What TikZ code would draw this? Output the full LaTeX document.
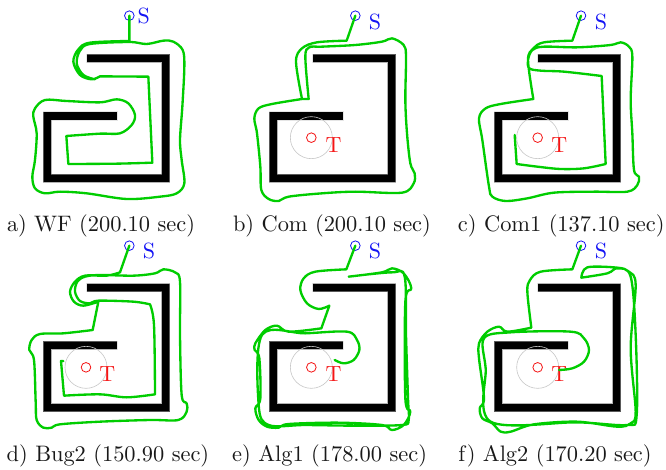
\documentclass[tikz,border=0pt]{standalone}
\definecolor{trajgreen}{RGB}{0,205,0}
\definecolor{lblue}{RGB}{20,20,245}
\definecolor{lred}{RGB}{245,20,20}
\font\capf=cmr10 at 16.8pt
\font\lblf=cmr10 at 16.5pt
\tikzset{
 every plot/.style={smooth,tension=.55},
 panel/.style={x=.25pt,y=-.25pt},
 traj/.style={draw=trajgreen,line width=1.75pt,line join=round,line cap=round},
 mark circle/.style={circle,draw,line width=.6pt,inner sep=0pt,minimum size=7.2pt},
 lbl/.style={font=\lblf,inner sep=0pt},
 range circle/.style={circle,draw=black!22,line width=.45pt,inner sep=0pt,minimum size=31.5pt},
 caption/.style={font=\capf,anchor=base,inner sep=0pt,text=black!90}
}
\newcommand{\wallpath}[3]{%
 \foreach \w/\c/\e in {7.2/black!10/3,6.6/black!30/2,6.0/black!65/1,5.4/black/0}{
  \draw[line width=\w pt,draw=\c,miter limit=10] (262+#1-\e,175+#2) -- (497+#1,175+#2) -- (497+#1,535+#2) -- (142+#1,535+#2) -- (142+#1,348+#2) -- (350+#1+\e,348+#2);
 }}
\begin{document}
\begin{tikzpicture}
\useasboundingbox[fill=white] (0,0) rectangle (499.5pt,-352.5pt);
% a
\begin{scope}[panel]
\wallpath{0}{0}{0}
\node[mark circle,draw=lblue] (sa) at (388,47) {};
\node[lbl,text=lblue] (la) at (431,48) {S};
\draw[traj] (sa.center) -- (388,123) -- plot coordinates {(388,123) (270,128) (235,148) (220,185) (240,225) (275,238) (300,229)} -- (445,230) -- (457,488) -- plot coordinates {(457,488) (350,491) (205,492)} -- (199,408) -- plot coordinates {(199,408) (300,401) (360,400) (395,375) (405,345) (385,310) (350,298) (300,307) (200,303) (135,300) (105,325) (100,350) (110,400) (105,480) (97,530) (105,565) (135,580) (180,575) (260,580) (380,597) (480,590) (530,580) (553,550) (545,480) (540,420) (547,320) (553,200) (548,150) (520,125) (490,122) (440,132) (388,126) (270,132) (240,152) (230,190) (250,225) (285,238)};
\node[caption] (ca) at (303,695) {a) WF (200.10 sec)};
\end{scope}
% b
\begin{scope}[panel,xshift=166.5pt]
\wallpath{12}{0}{0}
\node[range circle] (ga) at (268,413) {};
\node[mark circle,draw=lred] (tb) at (268,413) {};
\node[lbl,text=lred] (ltb) at (335,434) {T};
\node[mark circle,draw=lblue] (sb) at (400,47) {};
\node[lbl,text=lblue] (lsb) at (459,67) {S};
\draw[traj] (sb.center) -- (374,122) -- plot coordinates {(374,122) (285,127) (240,145) (222,185) (240,297)} -- plot coordinates {(240,297) (150,312) (110,325) (97,355) (105,400) (115,500) (118,570) (140,597) (170,603) (200,590) (300,580) (400,575) (540,578) (575,550) (578,520) (565,490) (555,400) (550,300) (552,170) (545,135) (510,115) (480,125) (400,135) (300,140) (262,142) (250,170) (260,297)} -- (240,297);
\node[caption] (cb) at (330,695) {b) Com (200.10 sec)};
\end{scope}
% c
\begin{scope}[panel,xshift=333pt]
\wallpath{21}{0}{0}
\node[range circle] (gc) at (281,413) {};
\node[mark circle,draw=lred] (tc) at (281,413) {};
\node[lbl,text=lred] (ltc) at (346,434) {T};
\node[mark circle,draw=lblue] (sc) at (411,47) {};
\node[lbl,text=lblue] (lsc) at (471,67) {S};
\draw[traj] (sc.center) -- (385,122) -- plot coordinates {(385,122) (300,127) (268,145) (252,180) (268,297)} -- plot coordinates {(268,297) (170,312) (125,325) (105,355) (115,420) (135,560) (145,590) (185,603) (250,595) (330,578) (450,575) (550,575) (580,555) (585,530) (570,510) (565,400) (560,300) (565,170) (555,140) (530,127) (500,135) (400,142) (300,140) (265,150) (252,180) (256,205) (290,212) (360,215) (473,228)} -- (485,492) -- plot coordinates {(485,492) (420,505) (350,507) (280,500) (218,492)} -- (212,405);
\node[caption] (cc) at (352,695) {c) Com1 (137.10 sec)};
\end{scope}
% d
\begin{scope}[panel,yshift=-176.25pt]
\wallpath{0}{-17}{0}
\node[range circle] (gd) at (258,397) {};
\node[mark circle,draw=lred] (td) at (258,397) {};
\node[lbl,text=lred] (ltd) at (322,416) {T};
\node[mark circle,draw=lblue] (sd) at (388,32) {};
\node[lbl,text=lblue] (lsd) at (447,49) {S};
\draw[traj] (sd.center) -- (360,112) -- plot coordinates {(360,112) (320,122) (255,122) (225,140) (210,170) (222,200) (250,212) (295,200)} -- (278,285) -- plot coordinates {(278,285) (190,295) (120,297) (95,315) (88,345) (102,375) (107,500) (110,555) (130,578) (155,578) (180,568) (300,560) (450,555) (535,555) (560,530) (560,505) (545,480) (540,300) (540,140) (525,112) (490,103) (465,115) (400,122) (300,120) (255,125) (232,140) (225,170) (240,198) (270,205) (295,197) (400,200) (450,208)} -- plot coordinates {(450,208) (462,270) (465,478)} -- plot coordinates {(465,478) (380,487) (300,478) (192,482)} -- (183,378) -- (190,378);
\node[caption] (cd) at (324,680) {d) Bug2 (150.90 sec)};
\end{scope}
% e
\begin{scope}[panel,xshift=166.5pt,yshift=-176.25pt]
\wallpath{12}{-17}{0}
\node[range circle] (ge) at (268,397) {};
\node[mark circle,draw=lred] (te) at (268,397) {};
\node[lbl,text=lred] (lte) at (335,416) {T};
\node[mark circle,draw=lblue] (se) at (400,32) {};
\node[lbl,text=lblue] (lse) at (459,49) {S};
\draw[traj] (se.center) -- (373,103) -- plot coordinates {(373,103) (280,110) (245,130) (235,165) (255,205) (290,222) (322,212)} -- (298,280) -- plot coordinates {(298,280) (200,290) (165,272) (130,285) (100,325) (98,345) (112,370) (115,490) (100,520) (110,555) (135,575) (170,578) (200,567) (350,563) (480,570) (510,585) (545,570) (565,530) (550,490) (550,200) (568,160) (545,115) (510,100) (480,112) (380,125)} -- plot coordinates {(380,125) (510,112) (548,125) (552,300) (558,490) (560,555) (540,570) (400,572) (250,570) (140,570) (110,510) (120,300) (250,295) (375,290) (405,315) (412,345) (395,375) (365,385) (338,375)};
\node[caption] (ce) at (323,680) {e) Alg1 (178.00 sec)};
\end{scope}
% f
\begin{scope}[panel,xshift=333pt,yshift=-176.25pt]
\wallpath{21}{-17}{0}
\node[range circle] (gf) at (281,397) {};
\node[mark circle,draw=lred] (tf) at (281,397) {};
\node[lbl,text=lred] (ltf) at (346,416) {T};
\node[mark circle,draw=lblue] (sf) at (411,32) {};
\node[lbl,text=lblue] (lsf) at (471,49) {S};
\draw[traj] (sf.center) -- (385,103) -- plot coordinates {(385,103) (290,110) (258,135) (250,170) (262,278)} -- plot coordinates {(262,278) (190,290) (165,275) (130,290) (105,325) (105,370) (120,490) (107,520) (115,550) (145,565) (170,590) (200,590) (270,568) (400,560) (520,575) (560,565) (575,530) (560,340) (575,150) (555,110) (520,98) (430,97) (412,128)} -- plot coordinates {(412,128) (490,115) (520,100) (560,125) (575,300) (578,540) (550,570) (400,562) (140,560) (125,400) (120,310) (200,292) (380,290) (420,310) (435,345) (420,380) (385,400) (345,405)};
\node[caption] (cf) at (333,680) {f) Alg2 (170.20 sec)};
\end{scope}
\end{tikzpicture}
\end{document}
